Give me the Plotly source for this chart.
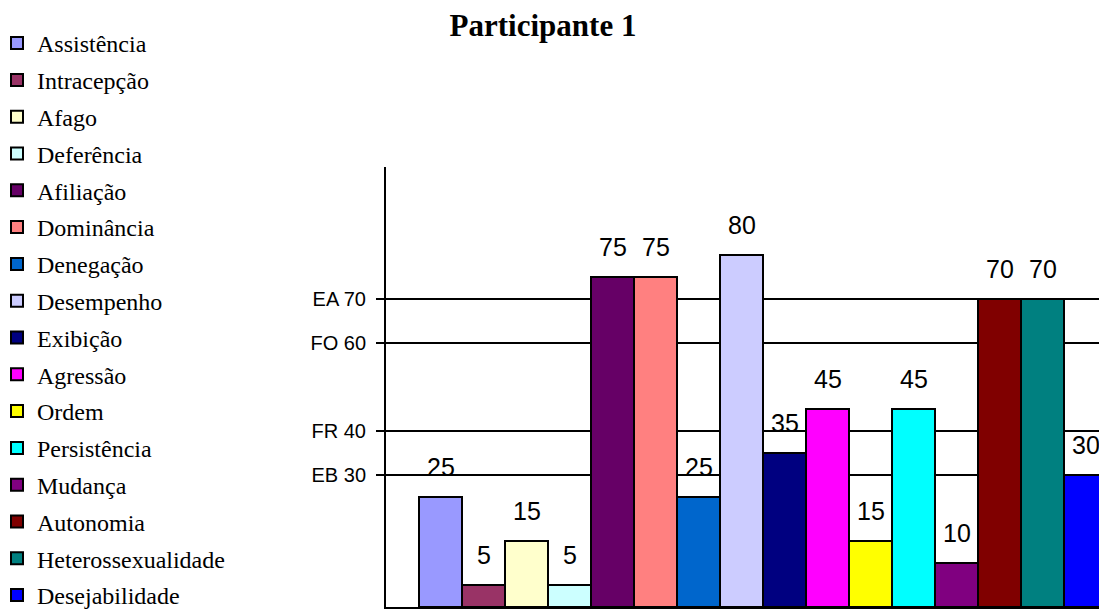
import plotly.graph_objects as go

# Escalas do participante 1
categorias = [
    "Assistência", "Intracepção", "Afago", "Deferência", "Afiliação",
    "Dominância", "Denegação", "Desempenho", "Exibição", "Agressão",
    "Ordem", "Persistência", "Mudança", "Autonomia", "Heterossexualidade",
    "Desejabilidade",
]
valores = [25, 5, 15, 5, 75, 75, 25, 80, 35, 45, 15, 45, 10, 70, 70, 30]
cores = [
    "#9999FF", "#993366", "#FFFFCC", "#CCFFFF", "#660066",
    "#FF8080", "#0066CC", "#CCCCFF", "#000080", "#FF00FF",
    "#FFFF00", "#00FFFF", "#800080", "#800000", "#008080",
    "#0000FF",
]

# Linhas de referência do eixo y
ref_valores = [30, 40, 60, 70]
ref_rotulos = ["EB 30", "FR 40", "FO 60", "EA 70"]

W, H = 1099, 613
ML, MR, MT, MB = 386, 0, 167, 6
plot_w = W - ML - MR

fig = go.Figure()
for i, (nome, v, cor) in enumerate(zip(categorias, valores, cores)):
    fig.add_trace(go.Bar(
        x=[i], y=[v], width=1, name=nome, legendgroup=nome,
        marker=dict(color=cor, line=dict(color="black", width=2)),
        hoverinfo="name+y",
    ))

# rótulos de valor acima das barras
for i, v in enumerate(valores):
    fig.add_annotation(
        x=i, y=v, text=str(v), showarrow=False, yanchor="bottom",
        yshift=14, font=dict(family="Liberation Sans, Arial", size=25, color="black"),
    )

px_unit = 43.0
x0 = -0.5 - (419 - ML) / px_unit
x1 = x0 + plot_w / px_unit

fig.update_layout(
    width=W, height=H,
    margin=dict(l=ML, r=MR, t=MT, b=MB, autoexpand=False),
    paper_bgcolor="white", plot_bgcolor="white",
    barmode="overlay",
    title=dict(
        text="<b>Participante 1</b>", x=(543 - ML) / plot_w, xref="paper",
        xanchor="center", y=1 - 25 / H, yref="container", yanchor="middle",
        font=dict(family="Liberation Serif, Times New Roman", size=31, color="black"),
    ),
    xaxis=dict(
        range=[x0, x1], showticklabels=False, ticks="", showgrid=False,
        zeroline=False, showline=True, linecolor="black", linewidth=2,
    ),
    yaxis=dict(
        range=[0, 100], tickvals=ref_valores, ticktext=ref_rotulos,
        ticks="outside", ticklen=8, tickwidth=1.5, tickcolor="black",
        showgrid=True, gridcolor="black", gridwidth=1.5,
        zeroline=False, showline=True, linecolor="black", linewidth=2,
        ticklabelstandoff=6,
        tickfont=dict(family="Liberation Sans, Arial", size=20, color="black"),
    ),
    legend=dict(
        x=-(ML + 3) / plot_w, xanchor="left", y=(H - MB - 21) / (H - MT - MB),
        yanchor="top", traceorder="grouped", tracegroupgap=2.6,
        font=dict(family="Liberation Serif, Times New Roman", size=24, color="black"),
        bgcolor="rgba(0,0,0,0)", borderwidth=0, itemwidth=30,
        maxheight=H,
    ),
    showlegend=True,
)

fig.write_html("out.html")
